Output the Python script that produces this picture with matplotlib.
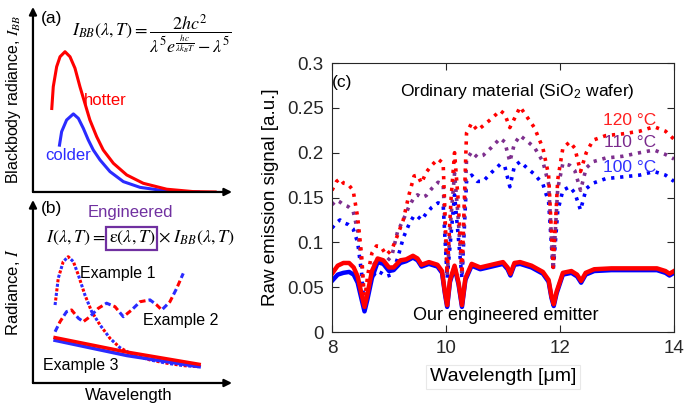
import matplotlib
matplotlib.use("Agg")
import matplotlib.pyplot as plt

plt.rcParams['font.family'] = ['Liberation Sans', 'DejaVu Sans']
plt.rcParams['mathtext.fontset'] = 'stix'

RED = '#ff0000'
BLUE = '#2b2bff'
PURPLE = '#7e2f8e'

# ---- panel (a): blackbody curves (schematic, axes units) ----
hot_x = [0.094, 0.102, 0.119, 0.136, 0.161, 0.186, 0.211, 0.236, 0.261, 0.286,
         0.320, 0.353, 0.404, 0.471, 0.554, 0.672, 0.806, 0.923]
hot_y = [0.443, 0.569, 0.677, 0.731, 0.758, 0.731, 0.669, 0.569, 0.479, 0.389,
         0.299, 0.227, 0.155, 0.092, 0.047, 0.015, 0.002, 0.0]
cold_x = [0.132, 0.144, 0.169, 0.203, 0.228, 0.253, 0.278, 0.303, 0.337, 0.387,
          0.454, 0.538, 0.672, 0.839]
cold_y = [0.245, 0.326, 0.389, 0.422, 0.398, 0.344, 0.281, 0.227, 0.173, 0.110,
          0.056, 0.025, 0.005, 0.0]

# ---- panel (b): engineered examples (schematic, axes units) ----
ex1_x = [0.111, 0.127, 0.152, 0.177, 0.203, 0.228, 0.261, 0.295, 0.337, 0.387,
         0.437, 0.504, 0.588, 0.672, 0.755, 0.831]
ex1_y = [0.426, 0.572, 0.663, 0.690, 0.663, 0.590, 0.481, 0.390, 0.317, 0.244,
         0.193, 0.153, 0.126, 0.108, 0.095, 0.089]
ex2_x = [0.111, 0.136, 0.169, 0.194, 0.228, 0.253, 0.286, 0.328, 0.370, 0.412,
         0.454, 0.496, 0.538, 0.588, 0.622, 0.647, 0.688, 0.722, 0.755]
ex2_y = [0.280, 0.335, 0.390, 0.399, 0.354, 0.335, 0.362, 0.408, 0.436, 0.417,
         0.362, 0.399, 0.444, 0.454, 0.426, 0.399, 0.444, 0.517, 0.599]
ex3_x = [0.111, 0.472, 0.835]
ex3_red = [0.248, 0.169, 0.102]
ex3_blue = [0.233, 0.150, 0.089]

# ---- panel (c): measured emission ----
wl_dot = [8.0, 8.08, 8.14, 8.2, 8.28, 8.37, 8.45, 8.52, 8.57, 8.63, 8.7, 8.78,
          8.86, 8.95, 9.05, 9.15, 9.25, 9.35, 9.44, 9.5, 9.57, 9.65, 9.75, 9.86,
          9.95, 10.02, 10.09, 10.15, 10.21, 10.28, 10.36, 10.45, 10.55, 10.65,
          10.8, 10.95, 11.03, 11.12, 11.2, 11.3, 11.42, 11.55, 11.7, 11.8, 11.88,
          11.96, 12.05, 12.17, 12.26, 12.36, 12.46, 12.58, 12.8, 13.1, 13.4,
          13.65, 13.85, 14.0]
sio2_120 = [0.158, 0.168, 0.171, 0.166, 0.165, 0.158, 0.128, 0.085, 0.035, 0.065,
            0.088, 0.096, 0.095, 0.086, 0.092, 0.108, 0.125, 0.153, 0.174, 0.175,
            0.166, 0.178, 0.186, 0.193, 0.188, 0.065, 0.150, 0.200, 0.150, 0.065,
            0.222, 0.233, 0.225, 0.230, 0.238, 0.247, 0.243, 0.228, 0.238, 0.251,
            0.240, 0.228, 0.205, 0.175, 0.072, 0.170, 0.205, 0.212, 0.205, 0.179,
            0.200, 0.214, 0.219, 0.221, 0.224, 0.229, 0.224, 0.215]
sio2_110 = [0.142, 0.147, 0.145, 0.142, 0.140, 0.135, 0.113, 0.075, 0.030, 0.055,
            0.072, 0.080, 0.080, 0.078, 0.085, 0.112, 0.125, 0.140, 0.150, 0.153,
            0.150, 0.152, 0.160, 0.167, 0.165, 0.063, 0.130, 0.177, 0.130, 0.063,
            0.192, 0.201, 0.195, 0.197, 0.206, 0.216, 0.212, 0.190, 0.210, 0.219,
            0.213, 0.206, 0.190, 0.165, 0.070, 0.160, 0.188, 0.186, 0.180, 0.158,
            0.183, 0.190, 0.194, 0.196, 0.200, 0.203, 0.198, 0.193]
sio2_100 = [0.116, 0.122, 0.125, 0.122, 0.120, 0.115, 0.100, 0.065, 0.025, 0.045,
            0.060, 0.068, 0.066, 0.062, 0.064, 0.082, 0.105, 0.120, 0.130, 0.129,
            0.125, 0.132, 0.139, 0.144, 0.142, 0.060, 0.110, 0.153, 0.110, 0.060,
            0.168, 0.175, 0.168, 0.168, 0.178, 0.187, 0.185, 0.162, 0.185, 0.190,
            0.183, 0.176, 0.165, 0.145, 0.068, 0.135, 0.158, 0.162, 0.155, 0.136,
            0.160, 0.166, 0.171, 0.173, 0.175, 0.179, 0.175, 0.168]

wl_eng = [8.0, 8.1, 8.2, 8.3, 8.38, 8.45, 8.52, 8.57, 8.62, 8.7, 8.8, 8.9, 9.0,
          9.08, 9.2, 9.3, 9.42, 9.5, 9.57, 9.7, 9.85, 9.93, 9.98, 10.02, 10.07,
          10.15, 10.22, 10.28, 10.34, 10.45, 10.6, 10.8, 11.0, 11.08, 11.13, 11.2,
          11.3, 11.5, 11.7, 11.8, 11.85, 11.89, 11.94, 12.05, 12.2, 12.3, 12.37,
          12.45, 12.6, 12.9, 13.3, 13.7, 13.85, 13.92, 14.0]
eng_120 = [0.065, 0.074, 0.077, 0.077, 0.072, 0.062, 0.042, 0.028, 0.042, 0.068,
           0.082, 0.080, 0.072, 0.072, 0.080, 0.081, 0.085, 0.082, 0.075, 0.078,
           0.075, 0.068, 0.045, 0.030, 0.058, 0.074, 0.055, 0.030, 0.060, 0.076,
           0.072, 0.075, 0.078, 0.072, 0.065, 0.077, 0.078, 0.074, 0.067, 0.058,
           0.040, 0.031, 0.045, 0.066, 0.068, 0.064, 0.057, 0.066, 0.070, 0.071,
           0.071, 0.071, 0.068, 0.065, 0.068]
eng_100 = [0.057, 0.064, 0.066, 0.067, 0.064, 0.055, 0.036, 0.023, 0.036, 0.060,
           0.078, 0.076, 0.068, 0.069, 0.077, 0.079, 0.083, 0.080, 0.073, 0.076,
           0.073, 0.066, 0.043, 0.028, 0.056, 0.072, 0.053, 0.028, 0.058, 0.074,
           0.070, 0.073, 0.076, 0.070, 0.063, 0.075, 0.076, 0.072, 0.065, 0.056,
           0.038, 0.029, 0.043, 0.064, 0.066, 0.062, 0.055, 0.064, 0.068, 0.069,
           0.069, 0.069, 0.066, 0.063, 0.066]

fig = plt.figure(figsize=(6.84, 4.04), dpi=100)


def arrow_axes(ax):
    ax.set_xlim(0, 1)
    ax.set_ylim(0, 1)
    ax.axis('off')
    ap = dict(arrowstyle='-|>', color='k', lw=1.6, shrinkA=0, shrinkB=0,
              mutation_scale=11)
    ax.annotate('', xy=(0, 1.0), xytext=(0, 0), arrowprops=ap,
                annotation_clip=False)
    ax.annotate('', xy=(1.0, 0), xytext=(0, 0), arrowprops=ap,
                annotation_clip=False)


# panel (a)
ax_a = fig.add_axes([0.0482, 0.5248, 0.291, 0.458])
arrow_axes(ax_a)
ax_a.plot(cold_x, cold_y, color=BLUE, lw=2.2, solid_capstyle='butt')
ax_a.plot(hot_x, hot_y, color=RED, lw=2.2, solid_capstyle='butt')
ax_a.text(0.095, 0.94, '(a)', fontsize=12.5, ha='center', va='center')
ax_a.text(0.60, 0.85,
          r'$I_{BB}(\lambda,T)=\dfrac{2hc^2}{\lambda^5 e^{\frac{hc}{\lambda k_B T}}-\lambda^5}$',
          fontsize=13, ha='center', va='center')
ax_a.text(0.362, 0.492, 'hotter', color=RED, fontsize=12, ha='center', va='center')
ax_a.text(0.176, 0.195, 'colder', color=BLUE, fontsize=12, ha='center', va='center')
ax_a.text(-0.10, 0.50, r'Blackbody radiance, $I_{BB}$', fontsize=11.5,
          rotation=90, ha='center', va='center')

# panel (b)
ax_b = fig.add_axes([0.0482, 0.052, 0.291, 0.453])
arrow_axes(ax_b)
ax_b.plot(ex1_x, ex1_y, color=BLUE, lw=2.2, ls=(0, (1, 2)))
ax_b.plot(ex1_x, ex1_y, color=RED, lw=2.2, ls=(1.5, (1, 2)))
ax_b.plot(ex2_x, ex2_y, color=BLUE, lw=2.2, ls=(0, (2, 4)))
ax_b.plot(ex2_x, ex2_y, color=RED, lw=2.2, ls=(3, (2, 4)))
ax_b.plot(ex3_x, ex3_blue, color=BLUE, lw=2.5)
ax_b.plot(ex3_x, ex3_red, color=RED, lw=2.5)
ax_b.text(0.095, 0.956, '(b)', fontsize=12.5, ha='center', va='center')
ax_b.text(0.487, 0.934, 'Engineered', color='#7030a0', fontsize=12,
          ha='center', va='center')
ax_b.text(0.365, 0.79, r'$I(\lambda,T)=$', fontsize=13, ha='right', va='center')
ax_b.text(0.497, 0.79, r'$\mathrm{\varepsilon}(\lambda,T)$', fontsize=13,
          ha='center', va='center',
          bbox=dict(boxstyle='square,pad=0.12', fc='none', ec='#7030a0', lw=1.6))
ax_b.text(0.628, 0.79, r'$\times\ I_{BB}(\lambda,T)$', fontsize=13,
          ha='left', va='center')
ax_b.text(0.427, 0.601, 'Example 1', fontsize=11.5, ha='center', va='center')
ax_b.text(0.744, 0.344, 'Example 2', fontsize=11.5, ha='center', va='center')
ax_b.text(0.241, 0.098, 'Example 3', fontsize=11.5, ha='center', va='center')
ax_b.text(0.482, -0.066, 'Wavelength', fontsize=12, ha='center', va='center')
ax_b.text(-0.10, 0.497, r'Radiance, $I$', fontsize=12, rotation=90,
          ha='center', va='center')

# panel (c)
ax = fig.add_axes([0.4854, 0.1782, 0.5, 0.6658])
dot = (0, (0.9, 1.6))
ax.plot(wl_dot, sio2_100, color='#0000ff', lw=2.6, ls=dot)
ax.plot(wl_dot, sio2_110, color=PURPLE, lw=2.6, ls=dot)
ax.plot(wl_dot, sio2_120, color=RED, lw=2.6, ls=dot)
ax.plot(wl_eng, eng_100, color='#0000ff', lw=3.2)
ax.plot(wl_eng, eng_120, color=RED, lw=3.2)
ax.set_xlim(8, 14)
ax.set_ylim(0, 0.3)
ax.set_xticks([8, 10, 12, 14])
ax.set_yticks([0, 0.05, 0.1, 0.15, 0.2, 0.25, 0.3])
ax.set_yticklabels(['0', '0.05', '0.1', '0.15', '0.2', '0.25', '0.3'])
ax.tick_params(direction='in', top=True, right=True, labelsize=13.5,
               length=5, width=0.8, colors='#262626', pad=6)
for s in ax.spines.values():
    s.set_color('#262626')
    s.set_linewidth(0.8)
ax.set_ylabel('Raw emission signal [a.u.]', fontsize=13.5, labelpad=6)
ax.set_xlabel('Wavelength [μm]', fontsize=14, labelpad=8,
              bbox=dict(boxstyle='square,pad=0.2', fc='white', ec='#e8e8e8', lw=0.8))
ax.text(8.18, 0.278, '(c)', fontsize=12.5, ha='center', va='center')
ax.text(11.25, 0.268, 'Ordinary material (SiO$_\\mathregular{2}$ wafer)',
        fontsize=12.5, ha='center', va='center')
ax.text(13.23, 0.236, '120 °C', color='#ff2020', fontsize=12.5, ha='center', va='center')
ax.text(13.23, 0.211, '110 °C', color='#7a2a8c', fontsize=12.5, ha='center', va='center')
ax.text(13.23, 0.184, '100 °C', color='#3030ff', fontsize=12.5, ha='center', va='center')
ax.text(11.05, 0.018, 'Our engineered emitter', fontsize=13, ha='center', va='center')

fig.savefig('out.png', dpi=100)
